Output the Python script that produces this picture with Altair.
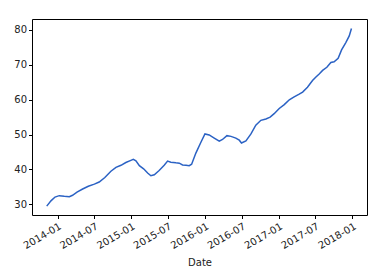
import altair as alt
import pandas as pd

dates = [
    "2013-11-08", "2013-11-29", "2013-12-19", "2014-01-09", "2014-02-03", "2014-02-28",
    "2014-03-16", "2014-04-07", "2014-05-05", "2014-06-02", "2014-07-02", "2014-07-26",
    "2014-08-23", "2014-09-22", "2014-10-17", "2014-11-11", "2014-12-05", "2014-12-30",
    "2015-01-11", "2015-01-24", "2015-02-10", "2015-03-03", "2015-03-23", "2015-04-08",
    "2015-04-25", "2015-05-19", "2015-06-13", "2015-06-30", "2015-07-16", "2015-08-10",
    "2015-08-27", "2015-09-12", "2015-09-29", "2015-10-15", "2015-10-27", "2015-11-17",
    "2015-12-12", "2016-01-01", "2016-01-22", "2016-02-16", "2016-03-12", "2016-03-28",
    "2016-04-19", "2016-05-09", "2016-06-02", "2016-06-19", "2016-06-30", "2016-07-22",
    "2016-08-16", "2016-09-09", "2016-10-04", "2016-10-29", "2016-11-19", "2016-12-09",
    "2017-01-03", "2017-01-28", "2017-02-22", "2017-03-18", "2017-04-12", "2017-04-29",
    "2017-05-23", "2017-06-17", "2017-07-04", "2017-07-20", "2017-08-06", "2017-08-27",
    "2017-09-16", "2017-10-02", "2017-10-22", "2017-11-08", "2017-11-29", "2017-12-16",
    "2017-12-27",
]
values = [
    29.5, 31.0, 32.1, 32.5, 32.3, 32.2,
    32.6, 33.5, 34.4, 35.2, 35.8, 36.4,
    37.7, 39.5, 40.6, 41.2, 42.0, 42.6,
    42.9, 42.5, 41.1, 40.2, 39.0, 38.2,
    38.5, 39.7, 41.2, 42.4, 42.1, 41.9,
    41.8, 41.3, 41.2, 41.1, 41.5, 44.7,
    47.8, 50.2, 49.9, 49.0, 48.1, 48.6,
    49.7, 49.5, 49.0, 48.4, 47.6, 48.2,
    50.2, 52.7, 54.1, 54.5, 55.0, 56.0,
    57.5, 58.6, 60.0, 60.8, 61.6, 62.2,
    63.6, 65.5, 66.5, 67.4, 68.4, 69.3,
    70.7, 70.9, 71.9, 74.3, 76.4, 78.3,
    80.4,
]
x_ticks = ["2014-01-01", "2014-07-01", "2015-01-01", "2015-07-01", "2016-01-01",
           "2016-07-01", "2017-01-01", "2017-07-01", "2018-01-01"]
y_ticks = [30, 40, 50, 60, 70, 80]

df = pd.DataFrame({"Date": pd.to_datetime(dates), "value": values})

x_tick_vals = [alt.DateTime(year=int(t[:4]), month=int(t[5:7]), date=1) for t in x_ticks]

chart = alt.Chart(df).mark_line(color="#2b62c4", strokeWidth=1.5).encode(
    x=alt.X(
        "Date:T",
        scale=alt.Scale(domain=[alt.DateTime(year=2013, month=8, date=27),
                                alt.DateTime(year=2018, month=3, date=14)], nice=False),
        axis=alt.Axis(
            values=x_tick_vals, format="%Y-%m", labelAngle=330, labelAlign="right",
            labelBaseline="top", grid=False, tickSize=3.5, tickColor="black",
            domain=False, labelColor="#222", labelFontSize=10, labelPadding=2.5,
            labelOverlap=False, labelFlush=False,
            title="Date", titleFontWeight="normal", titleFontSize=10,
            titleColor="#222", titlePadding=6.5, labelFont="DejaVu Sans", titleFont="DejaVu Sans",
        ),
    ),
    y=alt.Y(
        "value:Q",
        scale=alt.Scale(domain=[26.95, 83.15], nice=False, zero=False),
        axis=alt.Axis(
            values=y_ticks, grid=False, tickSize=3.5, tickColor="black", domain=False,
            labelColor="#222", labelFontSize=10, labelPadding=2, title=None,
            labelFont="DejaVu Sans", labelOverlap=False, labelFlush=False,
        ),
    ),
).properties(
    width=335, height=196,
    background="white",
    autosize=alt.AutoSizeParams(type="none"),
    padding={"left": 32, "top": 19, "right": 15, "bottom": 59},
).configure_view(stroke="black", strokeWidth=1)

chart.save("out.html", embed_options={"renderer": "svg", "actions": False})
